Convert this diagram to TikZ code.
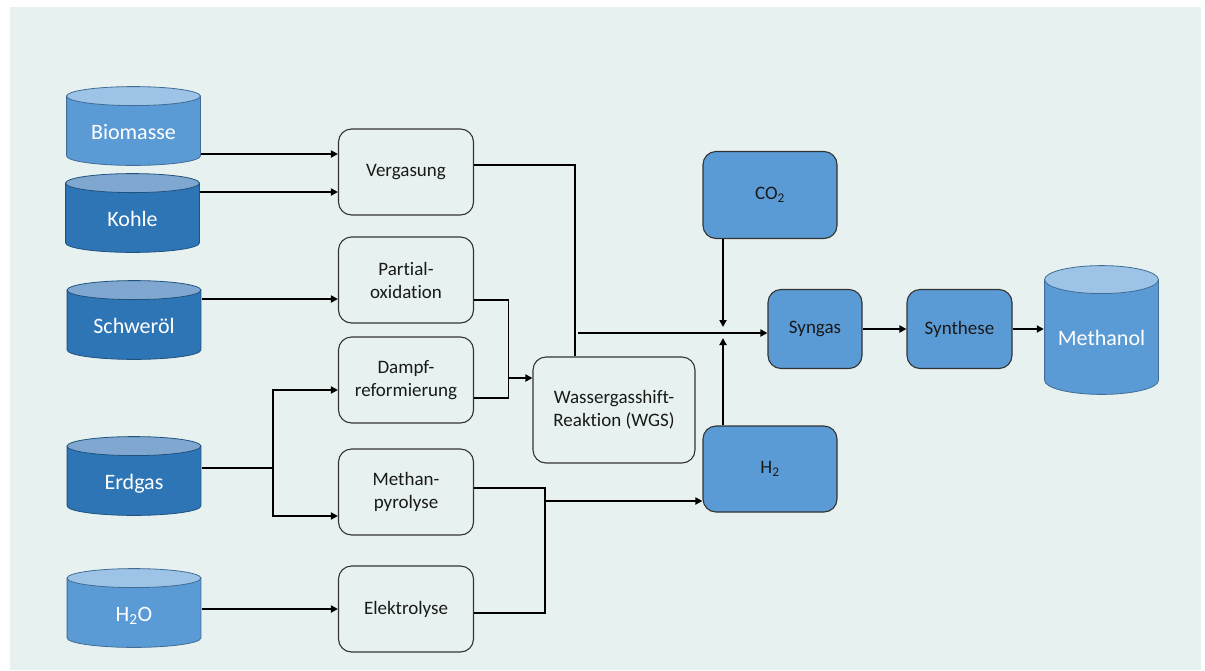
\documentclass[tikz,border=0pt]{standalone}
\usepackage{fontspec}
\setmainfont{Carlito}[Ligatures=NoCommon]
\usepackage{tikz}
\usetikzlibrary{arrows.meta,calc}
\definecolor{panelbg}{RGB}{231,242,240}
\definecolor{procblue}{RGB}{91,155,213}
\definecolor{feedlight}{RGB}{91,155,213}
\definecolor{feedlighttop}{RGB}{157,195,230}
\definecolor{feeddark}{RGB}{46,117,182}
\definecolor{feeddarktop}{RGB}{127,167,207}
\tikzset{
  feedcyl/.style n args={3}{rectangle, inner sep=0pt, text=white,
                       font=\fontsize{22}{26}\selectfont, text height=31pt, text depth=5pt,
                       path picture={
                         \path[fill=#1, draw=#1!70!black, line width=0.8pt]
                           let \p1=(path picture bounding box.south west),
                               \p2=(path picture bounding box.north east) in
                           ({\x1+0.6pt},{\y2-#3-0.6pt}) -- ({\x1+0.6pt},{\y1+#3+0.6pt})
                           arc[start angle=180, end angle=360,
                               x radius={(\x2-\x1)/2-0.6pt}, y radius=#3]
                           -- ({\x2-0.6pt},{\y2-#3-0.6pt}) -- cycle;
                         \path[fill=#2, draw=#1!70!black, line width=0.8pt]
                           let \p1=(path picture bounding box.south west),
                               \p2=(path picture bounding box.north east) in
                           ({(\x1+\x2)/2},{\y2-#3-0.6pt})
                           ellipse[x radius={(\x2-\x1)/2-0.6pt}, y radius=#3];
                       }},
  procbox/.style    = {rectangle, rounded corners=13pt, draw=black!80, line width=1.1pt,
                       fill=panelbg, align=center, font=\fontsize{19}{23}\selectfont,
                       text=black!90, inner sep=2pt},
  bluebox/.style    = {procbox, fill=procblue},
  flow/.style       = {-{Triangle[length=7pt,width=7pt]}, line width=1.9pt},
  link/.style       = {line width=1.9pt},
}
\begin{document}
\begin{tikzpicture}[x=1pt,y=-1pt]
  \useasboundingbox (0,0) rectangle (1205,670);
  \fill[panelbg] (10,7) rectangle (1201,670);

  \node[feedcyl={feedlight}{feedlighttop}{9.5pt}, minimum width=135pt, minimum height=80pt] (bio)    at (133.5,126) {Biomasse};
  \node[feedcyl={feeddark}{feeddarktop}{9.5pt},   minimum width=135pt, minimum height=80pt] (kohle)  at (132.5,213) {Kohle};
  \node[feedcyl={feeddark}{feeddarktop}{9.5pt},   minimum width=135pt, minimum height=80pt] (oel)    at (134,320)   {Schweröl};
  \node[feedcyl={feeddark}{feeddarktop}{9.5pt},   minimum width=135pt, minimum height=80pt] (gas)    at (134,476)   {Erdgas};
  \node[feedcyl={feedlight}{feedlighttop}{9.5pt}, minimum width=135pt, minimum height=80pt] (wasser) at (134,608)   {H\textsubscript{2}O};
  \node[feedcyl={feedlight}{feedlighttop}{14pt},  minimum width=115pt, minimum height=130pt,
        text height=36pt] (meoh) at (1101.5,330) {Methanol};

  \node[procbox, minimum width=135pt, minimum height=86pt]  (verg)  at (406,172) {Vergasung};
  \node[procbox, minimum width=135pt, minimum height=86pt]  (pox)   at (406,280) {Partial-\\oxidation};
  \node[procbox, minimum width=135pt, minimum height=86pt]  (dampf) at (406,380) {Dampf-\\reformierung};
  \node[procbox, minimum width=135pt, minimum height=86pt]  (pyro)  at (406,492) {Methan-\\pyrolyse};
  \node[procbox, minimum width=135pt, minimum height=86pt]  (elyse) at (406,609) {Elektrolyse};
  \node[procbox, minimum width=162pt, minimum height=106pt] (wgs)   at (614,410) {Wassergasshift-\\Reaktion (WGS)};
  \node[bluebox, minimum width=134pt, minimum height=87pt]  (co2)   at (770,195) {CO\textsubscript{2}};
  \node[bluebox, minimum width=134pt, minimum height=86pt]  (h2)    at (770,469) {H\textsubscript{2}};
  \node[bluebox, minimum width=94pt,  minimum height=79pt]  (syngas) at (815,329) {Syngas};
  \node[bluebox, minimum width=105pt, minimum height=79pt]  (synth) at (959.5,329) {Synthese};

  \coordinate (vin1) at ($(verg.west)+(0,-18)$);
  \coordinate (vin2) at ($(verg.west)+(0,20)$);
  \draw[flow] (bio.east |- vin1) -- (vin1);
  \draw[flow] (kohle.east |- vin2) -- (vin2);

  \coordinate (wgsup) at ($(wgs.north)+(-39,0)$);
  \coordinate (synin) at ($(syngas.west)+(0,4)$);
  \coordinate (mix)   at ($(co2.south)+(-47,0)$);
  \draw[link] ($(verg.east)+(0,-7)$) -| (wgsup);
  \draw[flow] ($(wgsup |- synin)+(3,0)$) -- (synin);
  \draw[flow, shorten >=6pt] (mix) -- (mix |- synin);
  \draw[flow, shorten >=5pt] (h2.north -| mix) -- (mix |- synin);

  \coordinate (oin) at ($(pox.west)+(0,19)$);
  \coordinate (win) at ($(wgs.west)+(0,-32)$);
  \coordinate (wj)  at ($(win)+(-24,0)$);
  \draw[flow] (oel.east |- oin) -- (oin);
  \draw[link] ($(pox.east)+(0,20)$) -| (wj);
  \draw[link] ($(dampf.east)+(0,18)$) -| (wj);
  \draw[flow] (wj) -- (win);

  \coordinate (gj) at ($(gas.east)+(71,-8)$);
  \draw[link] ($(gas.east)+(0,-8)$) -- (gj);
  \draw[flow] (gj) |- ($(dampf.west)+(0,10)$);
  \draw[flow] (gj) |- ($(pyro.west)+(0,24)$);

  \coordinate (hj)   at ($(pyro.east)+(71,-4)$);
  \coordinate (h2in) at ($(h2.west)+(0,32)$);
  \draw[link] ($(pyro.east)+(0,-4)$) -- (hj) |- ($(elyse.east)+(0,4)$);
  \draw[flow] (hj |- h2in) -- (h2in);
  \draw[flow] (wasser.east |- elyse.west) -- (elyse.west);

  \draw[flow] (syngas.east) -- (synth.west);
  \draw[flow] (synth.east) -- (synth.east -| meoh.west);
\end{tikzpicture}
\end{document}
